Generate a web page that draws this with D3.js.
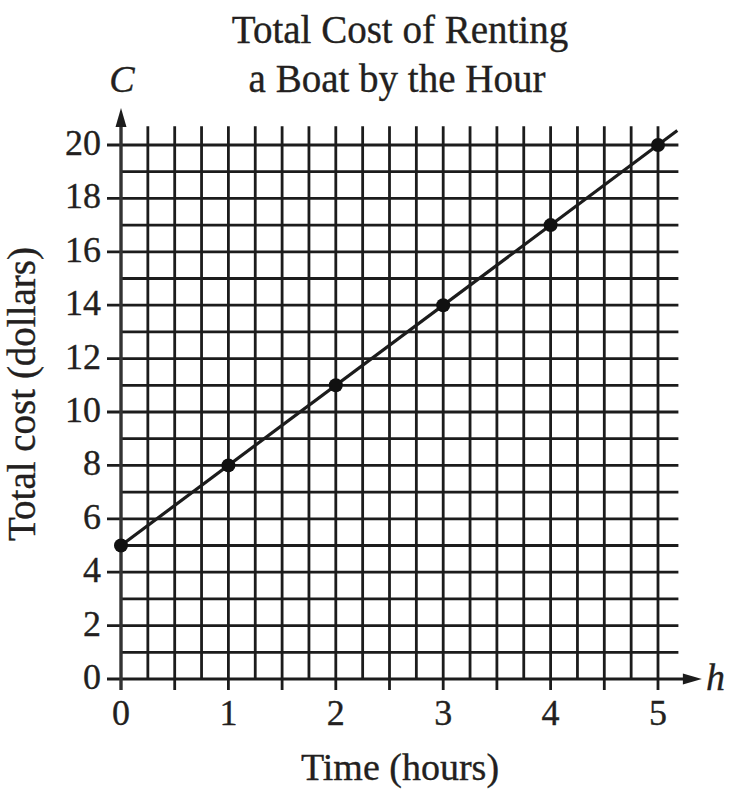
<!DOCTYPE html>
<html>
<head>
<meta charset="utf-8">
<script src="https://cdn.jsdelivr.net/npm/d3@7"></script>
<style>
  body { margin: 0; background: #fff; }
  text { font-family: "Liberation Serif", "DejaVu Serif", serif; fill: #231f20; stroke: #231f20; stroke-width: 0.35px; }
</style>
</head>
<body>
<div id="boat-chart"></div>
<script>
//Data
const bt_hours = [0, 1, 2, 3, 4, 5];
const bt_cost = [5, 8, 11, 14, 17, 20];
const bt_xLabels = [0, 1, 2, 3, 4, 5];
const bt_yLabels = [0, 2, 4, 6, 8, 10, 12, 14, 16, 18, 20];
const bt_lineExtent = [0, 5.18];

//Dimensions of the plot
const bt_margin = {top: 145, right: 78, bottom: 120, left: 121},
    bt_width = 736 - bt_margin.left - bt_margin.right,
    bt_height = 799 - bt_margin.top - bt_margin.bottom;

const bt_svg = d3.select("#boat-chart")
    .append("svg")
    .attr("width", 736)
    .attr("height", 799)
    .append("g")
    .attr("transform", `translate(${bt_margin.left}, ${bt_margin.top})`);

//Scales
const bt_x = d3.scaleLinear().domain([0, 5]).range([0, bt_width]);
const bt_y = d3.scaleLinear().domain([0, 20]).range([bt_height, 0]);

const bt_ink = "#1c1c1c";
const bt_gridTop = bt_y(20.7);
const bt_gridRight = bt_x(5.19);

//Vertical grid lines every quarter hour, ticks every half hour
const bt_vGrid = d3.range(1, 21).map(i => i / 4);
bt_svg.selectAll(".vgrid")
    .data(bt_vGrid)
    .join("line")
    .attr("class", "vgrid")
    .attr("x1", d => bt_x(d))
    .attr("x2", d => bt_x(d))
    .attr("y1", bt_gridTop)
    .attr("y2", d => (d * 2) % 1 === 0 ? bt_height + 11 : bt_height)
    .attr("stroke", bt_ink)
    .attr("stroke-width", 2.8);

//Horizontal grid lines every dollar, ticks every two
const bt_hGrid = d3.range(1, 21);
bt_svg.selectAll(".hgrid")
    .data(bt_hGrid)
    .join("line")
    .attr("class", "hgrid")
    .attr("x1", d => d % 2 === 0 ? -14 : 0)
    .attr("x2", bt_gridRight)
    .attr("y1", d => bt_y(d))
    .attr("y2", d => bt_y(d))
    .attr("stroke", bt_ink)
    .attr("stroke-width", 2.8);

//Axes with arrows
bt_svg.append("line")
    .attr("x1", -14).attr("x2", bt_x(5.25))
    .attr("y1", bt_height).attr("y2", bt_height)
    .attr("stroke", bt_ink).attr("stroke-width", 3);
bt_svg.append("path")
    .attr("d", `M${bt_x(5.25) - 2},${bt_height - 5.5} L${bt_x(5.25) + 17},${bt_height} L${bt_x(5.25) - 2},${bt_height + 5.5} Z`)
    .attr("fill", bt_ink);

bt_svg.append("line")
    .attr("x1", 0).attr("x2", 0)
    .attr("y1", bt_height + 11).attr("y2", bt_y(20.75))
    .attr("stroke", "#333").attr("stroke-width", 3.4);
bt_svg.append("path")
    .attr("d", `M-5.5,${bt_y(20.75) + 2} L0,${bt_y(20.75) - 17} L5.5,${bt_y(20.75) + 2} Z`)
    .attr("fill", bt_ink);

//Tick labels
bt_svg.selectAll(".xlab")
    .data(bt_xLabels)
    .join("text")
    .attr("class", "xlab")
    .attr("x", d => bt_x(d))
    .attr("y", bt_height + 46)
    .attr("text-anchor", "middle")
    .attr("font-size", "36px")
    .text(d => d);

bt_svg.selectAll(".ylab")
    .data(bt_yLabels)
    .join("text")
    .attr("class", "ylab")
    .attr("x", -20)
    .attr("y", d => bt_y(d) + 10)
    .attr("text-anchor", "end")
    .attr("font-size", "36px")
    .text(d => d);

//Cost line, extended a little past the last point
const bt_slope = (bt_cost[bt_cost.length - 1] - bt_cost[0]) / (bt_hours[bt_hours.length - 1] - bt_hours[0]);
const bt_lineData = bt_lineExtent.map(h => ({h: h, c: bt_cost[0] + bt_slope * (h - bt_hours[0])}));
bt_svg.append("path")
    .datum(bt_lineData)
    .attr("d", d3.line().x(d => bt_x(d.h)).y(d => bt_y(d.c)))
    .attr("fill", "none")
    .attr("stroke", bt_ink)
    .attr("stroke-width", 3.2);

bt_svg.selectAll(".pt")
    .data(bt_hours)
    .join("circle")
    .attr("class", "pt")
    .attr("cx", d => bt_x(d))
    .attr("cy", (d, i) => bt_y(bt_cost[i]))
    .attr("r", 7)
    .attr("fill", "#111");

//Titles and axis names
const bt_root = d3.select("#boat-chart svg");
bt_root.append("text")
    .attr("x", 400).attr("y", 43)
    .attr("text-anchor", "middle")
    .attr("font-size", "39px")
    .text("Total Cost of Renting");
bt_root.append("text")
    .attr("x", 397).attr("y", 92)
    .attr("text-anchor", "middle")
    .attr("font-size", "39px")
    .text("a Boat by the Hour");
bt_root.append("text")
    .attr("x", 122).attr("y", 92)
    .attr("text-anchor", "middle")
    .attr("font-size", "38px")
    .attr("font-style", "italic")
    .text("C");
bt_root.append("text")
    .attr("x", 706).attr("y", 690)
    .attr("font-size", "38px")
    .attr("font-style", "italic")
    .text("h");
bt_root.append("text")
    .attr("x", 400).attr("y", 780)
    .attr("text-anchor", "middle")
    .attr("font-size", "38px")
    .text("Time (hours)");
bt_root.append("text")
    .attr("transform", "translate(35, 394) rotate(-90)")
    .attr("text-anchor", "middle")
    .attr("font-size", "39px")
    .text("Total cost (dollars)");
</script>
</body>
</html>
